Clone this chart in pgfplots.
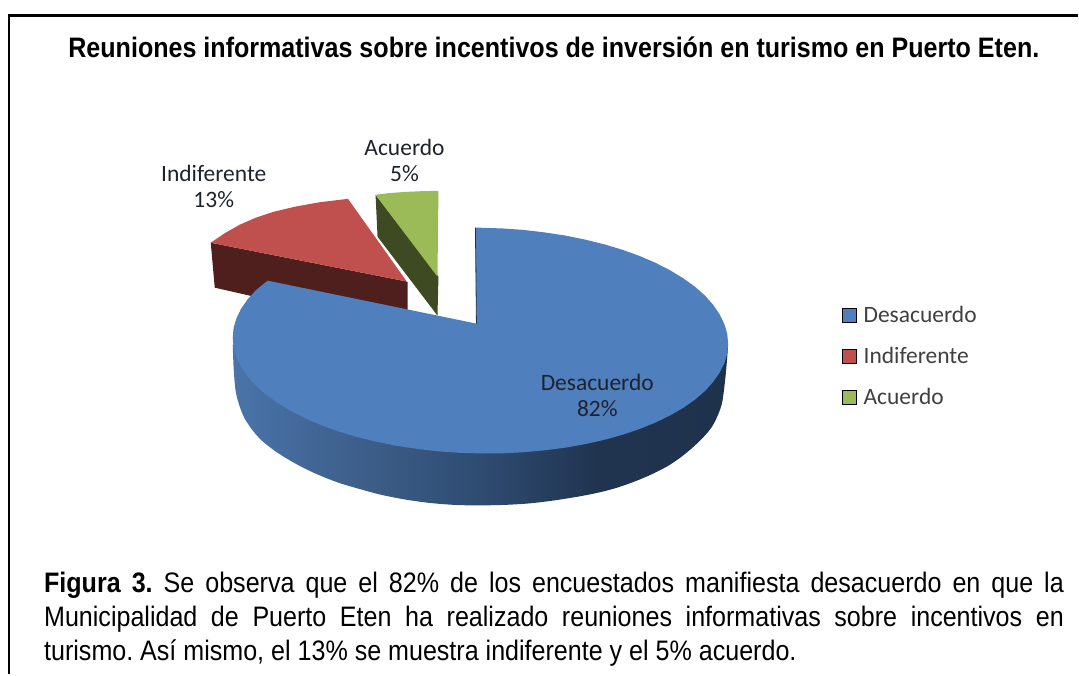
\documentclass[border=0pt]{standalone}
\usepackage{pgfplots}
\pgfplotsset{compat=1.18}
\usepackage{fontspec}
\setmainfont{Liberation Sans}
\newfontfamily\narrow[FakeStretch=0.89]{Liberation Sans}
\newfontfamily\cali{Carlito}
\definecolor{cblue}{RGB}{79,127,189}
\definecolor{cred}{RGB}{192,80,77}
\definecolor{cgreen}{RGB}{155,187,89}
\definecolor{dred}{RGB}{79,31,30}
\definecolor{dgreen}{RGB}{62,74,34}
\definecolor{lbl}{RGB}{30,35,45}
\definecolor{leg}{RGB}{64,64,64}
\definecolor{wa}{RGB}{74,116,170}
\definecolor{wb}{RGB}{62,96,140}
\definecolor{wc}{RGB}{47,76,113}
\definecolor{wd}{RGB}{32,52,80}
\definecolor{we}{RGB}{31,50,76}
\pgfdeclarehorizontalshading{wall}{100bp}{
 color(0bp)=(wa);
 color(25bp)=(wa);
 color(37bp)=(wb);
 color(50bp)=(wc);
 color(62bp)=(wd);
 color(75bp)=(we);
 color(100bp)=(we)}
\begin{document}
\frenchspacing
\begin{tikzpicture}
\begin{axis}[
  scale only axis, width=1079pt, height=675pt,
  xmin=0, xmax=1079, ymin=0, ymax=675, y dir=reverse,
  hide axis, clip=false,
  legend style={at={(axis description cs:0.7813,0.549)}, anchor=north west, draw=none, fill=none,
    font=\cali\fontsize{23.5}{26}\selectfont, text=leg, row sep=19.2pt, inner sep=0pt,
    /tikz/every odd column/.append style={column sep=5pt}},
  legend image code/.code={\fill[#1] (0pt,-7pt) rectangle (14pt,7pt);},
  legend cell align=left,
]
% page background
\addplot[forget plot, draw=none, fill=white, no marks] coordinates {(0,0) (1079,0) (1079,675) (0,675)} -- cycle;
% frame
\addplot[forget plot, black, line width=2.6pt, no marks] coordinates {(9,675) (9,15.5) (1079,15.5)};
% legend entries
\addlegendimage{fill=cblue}\addlegendentry{Desacuerdo}
\addlegendimage{fill=cred}\addlegendentry{Indiferente}
\addlegendimage{fill=cgreen}\addlegendentry{Acuerdo}
% green slice
\addplot[forget plot, draw=none, fill=dgreen, no marks] coordinates {(376,195) (378,237) (438,316) (439,277)} -- cycle;
\addplot[forget plot, draw=none, fill=cgreen, no marks] coordinates {(376,195) (390,193.3) (405,192.2) (420,191.5) (439,191) (438,277)} -- cycle;
% red slice
\addplot[forget plot, draw=none, fill=dred, no marks] coordinates {(211,243) (215,288) (408,332) (408,282)} -- cycle;
\addplot[forget plot, draw=none, fill=cred, no marks] coordinates {(211,243) (225,233.5) (240,225) (256,218) (273,212.3) (295,207) (320,202.5) (349,199) (408,282)} -- cycle;
\addplot[forget plot, white, line width=0.8pt, no marks] coordinates {(349,199) (408,282)};
% blue wall
\addplot[forget plot, draw=none, shade, shading=wall, no marks, smooth, tension=0.5] coordinates {
(233,345) (234,370) (236,392) (240,407) (245,419) (253,431) (262,441) (276,452) (292,462) (308,470.5) (325,478) (341,484) (358,489) (380,495) (405,500) (430,503.5) (455,505.5) (478,506) (505,505.5) (530,504) (555,501) (580,497) (600,493) (617,488.5) (633,483) (650,476) (667,467.5) (680,459) (693,448.5) (704,438) (713,427) (719,415) (723,403) (725.5,385) (727.5,365) (729,345)} -- cycle;
% blue top
\addplot[forget plot, draw=none, fill=cblue, no marks] coordinates {
(477,324) (476,228) (481,228) (502.6,228.7) (524.1,230.2) (545.2,232.7) (565.8,235.8) (585.8,239.9) (605,244.6) (623.3,250.1) (640.4,256.3) (656.4,263.2) (671,270.7) (684.2,278.7) (695.8,287.1) (705.8,295.9) (714,305.2) (720.5,314.7) (725.2,324.4) (728.1,334.1) (729,344)
(728.1,353.9) (725.2,363.6) (720.5,373.1) (714,382.4) (705.8,391.5) (695.8,400.1) (684.2,408.3) (671,415.9) (656.4,423) (640.4,429.5) (623.3,435.3) (605,440.4) (585.8,444.7) (565.8,448.2) (545.2,450.9) (524.1,452.8) (502.6,453.9) (481,454)
(459.4,453.3) (437.9,451.8) (416.8,449.3) (396.2,446.2) (376.2,442.1) (357,437.4) (338.7,431.9) (321.6,425.7) (305.6,418.8) (291,411.3) (277.8,403.3) (266.2,394.9) (256.2,386.1) (248,376.8) (241.5,367.3) (236.8,357.7) (233.9,347.9) (233,338)
(233.9,328.1) (236.8,318.5) (241.5,308.9) (248,299.6) (256.2,290.5) (268,281)} -- cycle;
\addplot[forget plot, color=black!60!cblue, line width=0.8pt, no marks] coordinates {(476,228) (477,324)};
% texts
\node[font=\narrow\bfseries\fontsize{28.2}{30}\selectfont, anchor=center] at (axis cs:554.5,47) {Reuniones informativas sobre incentivos de inversión en turismo en Puerto Eten.};
\node[font=\cali\fontsize{23.5}{26}\selectfont, text=lbl, align=center, inner sep=0pt] at (axis cs:405,160.5) {Acuerdo\\5\%};
\node[font=\cali\fontsize{23.5}{26}\selectfont, text=lbl, align=center, inner sep=0pt] at (axis cs:214,186.5) {Indiferente\\13\%};
\node[font=\cali\fontsize{23.5}{26}\selectfont, text=lbl, align=center, inner sep=0pt] at (axis cs:598,395.5) {Desacuerdo\\82\%};
\node[anchor=north west, inner sep=0pt, text width=1021pt, font=\narrow\fontsize{28.2}{34}\selectfont, align=justify] at (axis cs:44,572.5) {{\bfseries Figura 3.} Se observa que el 82\% de los encuestados manifiesta desacuerdo en que la\linebreak Municipalidad de Puerto Eten ha realizado reuniones informativas sobre incentivos en\linebreak turismo. Así mismo, el 13\% se muestra indiferente y el 5\% acuerdo.};
\end{axis}
\end{tikzpicture}
\end{document}
